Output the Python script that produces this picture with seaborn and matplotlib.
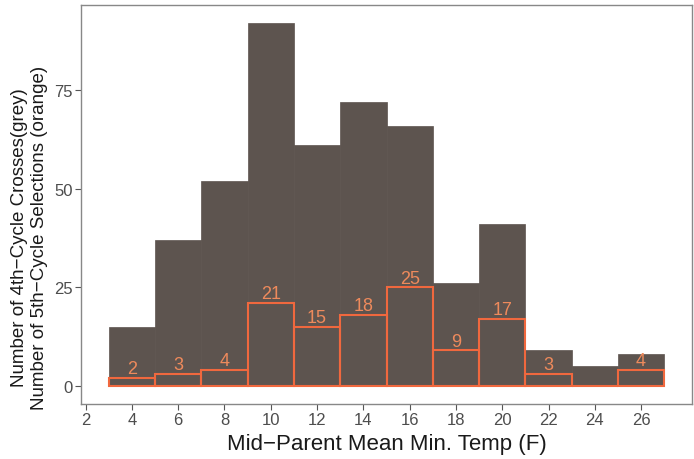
import numpy as np
import matplotlib
matplotlib.use("Agg")
import matplotlib.pyplot as plt
import seaborn as sns

# bin edges (width 2) and counts
bin_edges = [3, 5, 7, 9, 11, 13, 15, 17, 19, 21, 23, 25, 27]
grey_counts = [15, 37, 52, 92, 61, 72, 66, 26, 41, 9, 5, 8]
orange_counts = [2, 3, 4, 21, 15, 18, 25, 9, 17, 3, 0, 4]
x_ticks = [2, 4, 6, 8, 10, 12, 14, 16, 18, 20, 22, 24, 26]
y_ticks = [0, 25, 50, 75]

centers = [(a + b) / 2 for a, b in zip(bin_edges[:-1], bin_edges[1:])]

sns.set_style("white")
plt.rcParams['font.family'] = ['Liberation Sans', 'DejaVu Sans']

fig = plt.figure(figsize=(6.94, 4.60), dpi=100)
ax = fig.add_axes([81 / 694, 1 - 405 / 460, (692 - 81) / 694, (405 - 6) / 460])

grey = "#5d544f"
orange = "#f0683e"

sns.histplot(x=centers, weights=grey_counts, bins=bin_edges, ax=ax,
             color=grey, alpha=1, edgecolor=grey, linewidth=0.5)
sns.histplot(x=centers, weights=orange_counts, bins=bin_edges, ax=ax,
             fill=False, color=orange, linewidth=1.5)

for c, n in zip(centers, orange_counts):
    if n > 0:
        ax.text(c, n + 0.2, str(n), ha="center", va="bottom",
                color="#ee8a5c", fontsize=13)

ax.set_xlim(1.8, 28.2)
ax.set_ylim(-4.6, 96.6)
ax.set_xticks(x_ticks)
ax.set_yticks(y_ticks)
ax.tick_params(axis="both", direction="out", length=4, width=0.8,
               color="#555555", labelcolor="#4d4d4d", labelsize=12,
               bottom=True, left=True, pad=2)
for s in ax.spines.values():
    s.set_color("#888888")
    s.set_linewidth(1.0)

ax.set_xlabel("Mid\u2212Parent Mean Min. Temp (F)", fontsize=16, color="#1a1a1a",
              labelpad=4)
ax.set_ylabel("Number of 4th\u2212Cycle Crosses(grey)\nNumber of 5th\u2212Cycle Selections (orange)",
              fontsize=13.5, color="#1a1a1a", linespacing=1.2)
ax.yaxis.set_label_coords((48 - 81) / 611, (405 - 238) / 399)

fig.savefig("out.png", dpi=100)
